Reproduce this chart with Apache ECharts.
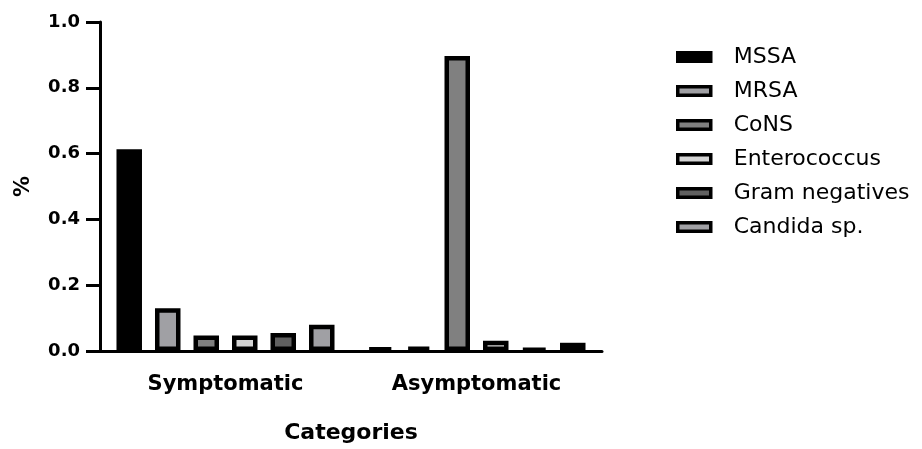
<!DOCTYPE html>
<html>
<head>
<meta charset="utf-8">
<script src="https://cdn.jsdelivr.net/npm/echarts@6/dist/echarts.min.js"></script>
<style>
html,body{margin:0;padding:0;background:#fff;}
#chart{width:922px;height:449px;}
</style>
</head>
<body>
<div id="chart"></div>
<script>
var categories = ['Symptomatic', 'Asymptomatic'];
var seriesNames = ['MSSA', 'MRSA', 'CoNS', 'Enterococcus', 'Gram negatives', 'Candida sp.'];
var mssa = [0.613, 0.01];
var mrsa = [0.13, 0.013];
var cons = [0.047, 0.897];
var enterococcus = [0.047, 0.031];
var gramNegatives = [0.055, 0.008];
var candida = [0.08, 0.025];
var yTicks = [0.0, 0.2, 0.4, 0.6, 0.8, 1.0];

var seriesValues = [mssa, mrsa, cons, enterococcus, gramNegatives, candida];
var fills = ['#000000', '#a0a0a4', '#808080', '#d4d4d4', '#606060', '#a0a0a4'];

var FONT = 'DejaVu Sans';
var chart = echarts.init(document.getElementById('chart'), null, {renderer: 'canvas'});
var series = seriesNames.map(function (name, i) {
  return {
    name: name,
    type: 'bar',
    data: seriesValues[i],
    barWidth: 25.5,
    barGap: '51%',
    itemStyle: {color: fills[i], borderColor: '#000', borderWidth: 4.5},
    emphasis: {disabled: true}
  };
});

chart.setOption({
  animation: false,
  backgroundColor: '#fff',
  grid: {left: 100, top: 22, right: 320, bottom: 94, containLabel: false},
  legend: {
    orient: 'vertical',
    left: 671,
    top: 41,
    itemWidth: 33,
    itemHeight: 8.5,
    itemGap: 12,
    icon: 'rect',
    itemStyle: {borderColor: '#000', borderWidth: 3.5},
    textStyle: {fontFamily: FONT, fontSize: 22, color: '#000', padding: [0, 0, 0, 18]},
    data: seriesNames
  },
  xAxis: {
    type: 'category',
    data: categories,
    name: 'Categories',
    nameLocation: 'middle',
    nameGap: 71,
    nameTextStyle: {fontFamily: FONT, fontSize: 22, fontWeight: 'bold', color: '#000'},
    axisLine: {lineStyle: {color: '#000', width: 3}},
    axisTick: {alignWithLabel: true, length: 14, lineStyle: {color: '#000', width: 3}},
    axisLabel: {fontFamily: FONT, fontSize: 21, fontWeight: 'bold', color: '#000', margin: 23}
  },
  yAxis: {
    type: 'value',
    min: yTicks[0],
    max: yTicks[yTicks.length - 1],
    interval: 0.2,
    name: '%',
    nameLocation: 'middle',
    nameGap: 66,
    nameTextStyle: {fontFamily: FONT, fontSize: 21, fontWeight: 'bold', color: '#000'},
    splitLine: {show: false},
    axisLine: {show: true, lineStyle: {color: '#000', width: 3}},
    axisTick: {show: true, length: 14, lineStyle: {color: '#000', width: 3}},
    axisLabel: {
      fontFamily: FONT, fontSize: 18, fontWeight: 'bold', color: '#000', margin: 20,
      formatter: function (v) { return v.toFixed(1); }
    }
  },
  series: series
});
</script>
</body>
</html>
